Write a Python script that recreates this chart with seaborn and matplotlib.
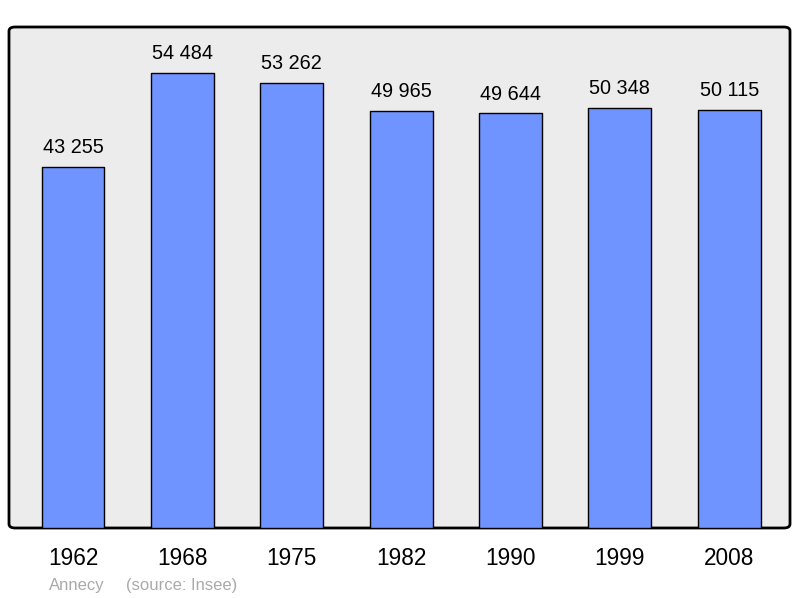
import matplotlib
matplotlib.use("Agg")
import matplotlib.pyplot as plt
from matplotlib.patches import FancyBboxPatch
import pandas as pd
import seaborn as sns

years = ["1962", "1968", "1975", "1982", "1990", "1999", "2008"]
population = [43255, 54484, 53262, 49965, 49644, 50348, 50115]
commune = "Annecy"
source = "(source: Insee)"

BAR = "#7094ff"
BG = "#ececec"

sns.set_theme(style="white")
plt.rcParams["font.family"] = ["Liberation Sans", "DejaVu Sans"]

df = pd.DataFrame({"year": years, "population": population})

fig = plt.figure(figsize=(8, 5.98), dpi=100)
ax = fig.add_axes([9 / 800, 70 / 598, 781 / 800, 501 / 598])
ax.set_facecolor("none")

# rounded frame behind the bars
frame = FancyBboxPatch((0, 0), 1, 1, boxstyle="round,pad=0,rounding_size=0.008",
                       transform=ax.transAxes, facecolor=BG, edgecolor="black",
                       linewidth=2, zorder=0, clip_on=False)
ax.add_patch(frame)

sns.barplot(data=df, x="year", y="population", color=BAR, saturation=1,
            width=0.575, edgecolor="black", linewidth=1, ax=ax, zorder=2)

for p, v in zip(ax.patches[1:], population):
    p.set_joinstyle("round")
    ax.annotate(f"{v:,}".replace(",", " "),
                (p.get_x() + p.get_width() / 2, p.get_height()),
                xytext=(0, 10), textcoords="offset points",
                ha="center", va="baseline", fontsize=14.3, color="black")

ax.set_ylim(0, 60000)
ax.set_xlim(-0.585, 6.555)
ax.set_xlabel("")
ax.set_ylabel("")
ax.set_yticks([])
ax.tick_params(axis="x", length=0, pad=14, labelsize=16.3, colors="black")
for s in ax.spines.values():
    s.set_visible(False)

fig.text(49 / 800, 8 / 598, commune, fontsize=12, color="#aaaaaa", ha="left", va="baseline")
fig.text(126 / 800, 8 / 598, source, fontsize=12, color="#aaaaaa", ha="left", va="baseline")

fig.savefig("out.png", dpi=100)
